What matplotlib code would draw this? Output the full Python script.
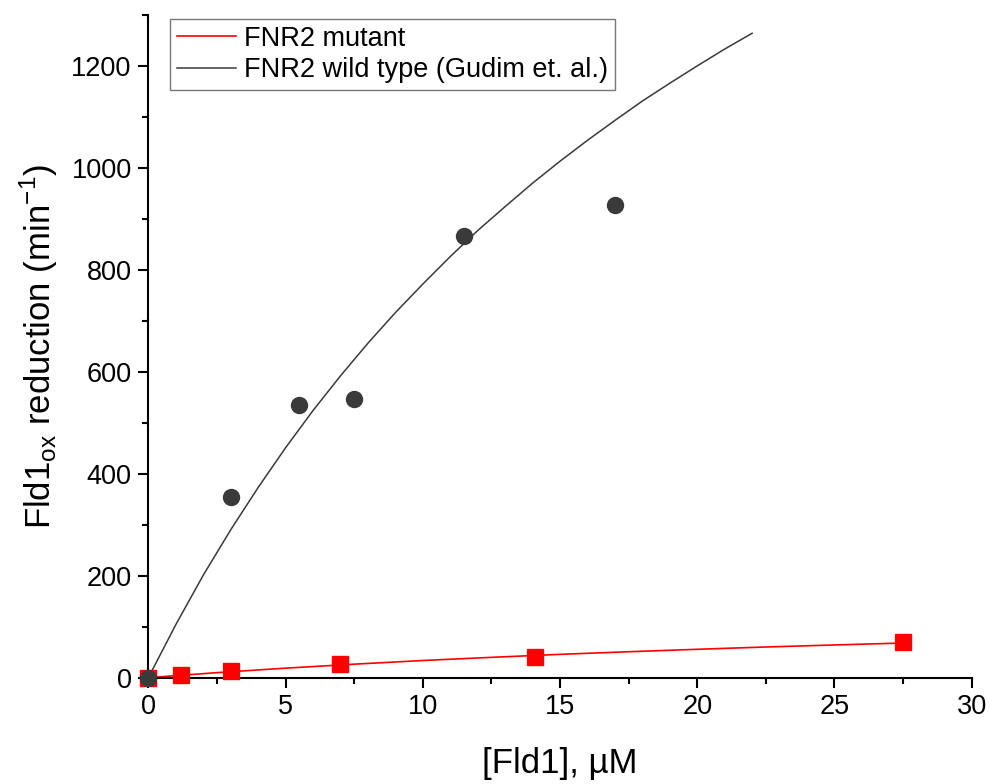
# Fld1 reduction kinetics: FNR2 mutant vs wild type
import matplotlib
matplotlib.use("Agg")
import matplotlib.pyplot as plt
from matplotlib.ticker import MultipleLocator

plt.rcParams["font.family"] = ["Liberation Sans", "DejaVu Sans"]

# measured points
wt_x = [0, 3, 5.5, 7.5, 11.5, 17]
wt_y = [0, 355, 534, 547, 867, 928]
mut_x = [0, 1.2, 3, 7, 14.1, 27.5]
mut_y = [0, 6, 13, 26, 41, 70]

# fitted curves
wt_fit_x = [0, 1, 2, 3, 4, 5, 6, 7, 8, 9, 10, 11, 12, 13, 14, 15, 16, 17, 18, 19, 20, 21, 22]
wt_fit_y = [0, 104, 201, 290, 373, 451, 524, 592, 656, 716, 772, 826, 877, 924,
            970, 1013, 1054, 1093, 1131, 1166, 1200, 1233, 1264]
mut_fit_x = [0, 2.5, 5, 7.5, 10, 12.5, 15, 17.5, 20, 22.5, 25, 27.5]
mut_fit_y = [0, 9.9, 18.7, 26.5, 33.7, 39.9, 45.8, 50.9, 55.7, 60.2, 64.2, 68.0]

labels = ["FNR2 mutant", "FNR2 wild type (Gudim et. al.)"]

fig = plt.figure(figsize=(9.89, 7.84), dpi=100)
ax = fig.add_axes([0.15, 0.1356, 0.8325, 0.8454])

dark = "#3a3a3a"
red = "#ff0000"

ax.plot(mut_fit_x, mut_fit_y, color=red, lw=1.2, label=labels[0], zorder=2)
ax.plot(wt_fit_x, wt_fit_y, color=dark, lw=1.1, label=labels[1], zorder=2)
ax.plot(mut_x, mut_y, ls="none", marker="s", ms=11, color=red, zorder=3, clip_on=False)
ax.plot(wt_x, wt_y, ls="none", marker="o", ms=11.5, color=dark, zorder=3, clip_on=False)

ax.set_xlim(0, 30)
ax.set_ylim(0, 1300)
ax.xaxis.set_major_locator(MultipleLocator(5))
ax.xaxis.set_minor_locator(MultipleLocator(2.5))
ax.yaxis.set_major_locator(MultipleLocator(200))
ax.yaxis.set_minor_locator(MultipleLocator(100))

for side in ["top", "right"]:
    ax.spines[side].set_visible(False)
for side in ["left", "bottom"]:
    ax.spines[side].set_linewidth(1.5)

ax.tick_params(which="major", direction="out", length=7, width=1.5, labelsize=19.5, pad=5)
ax.tick_params(which="minor", direction="out", length=4.5, width=1.5)

ax.set_xlabel("[Fld1], \u00b5M", fontsize=25, labelpad=19)
ax.set_ylabel("Fld1$_{\\mathregular{ox}}$ reduction (min$^{\\mathregular{-1}}$)", fontsize=25, labelpad=8)

leg = ax.legend(loc="upper left", bbox_to_anchor=(0.026, 0.994), borderaxespad=0,
                fontsize=19.5, frameon=True, fancybox=False, handlelength=2.2,
                handletextpad=0.3, labelspacing=0.2, borderpad=0.25)
leg.get_frame().set_edgecolor("#555555")
leg.get_frame().set_linewidth(1.0)

fig.savefig("out.png", dpi=100)
